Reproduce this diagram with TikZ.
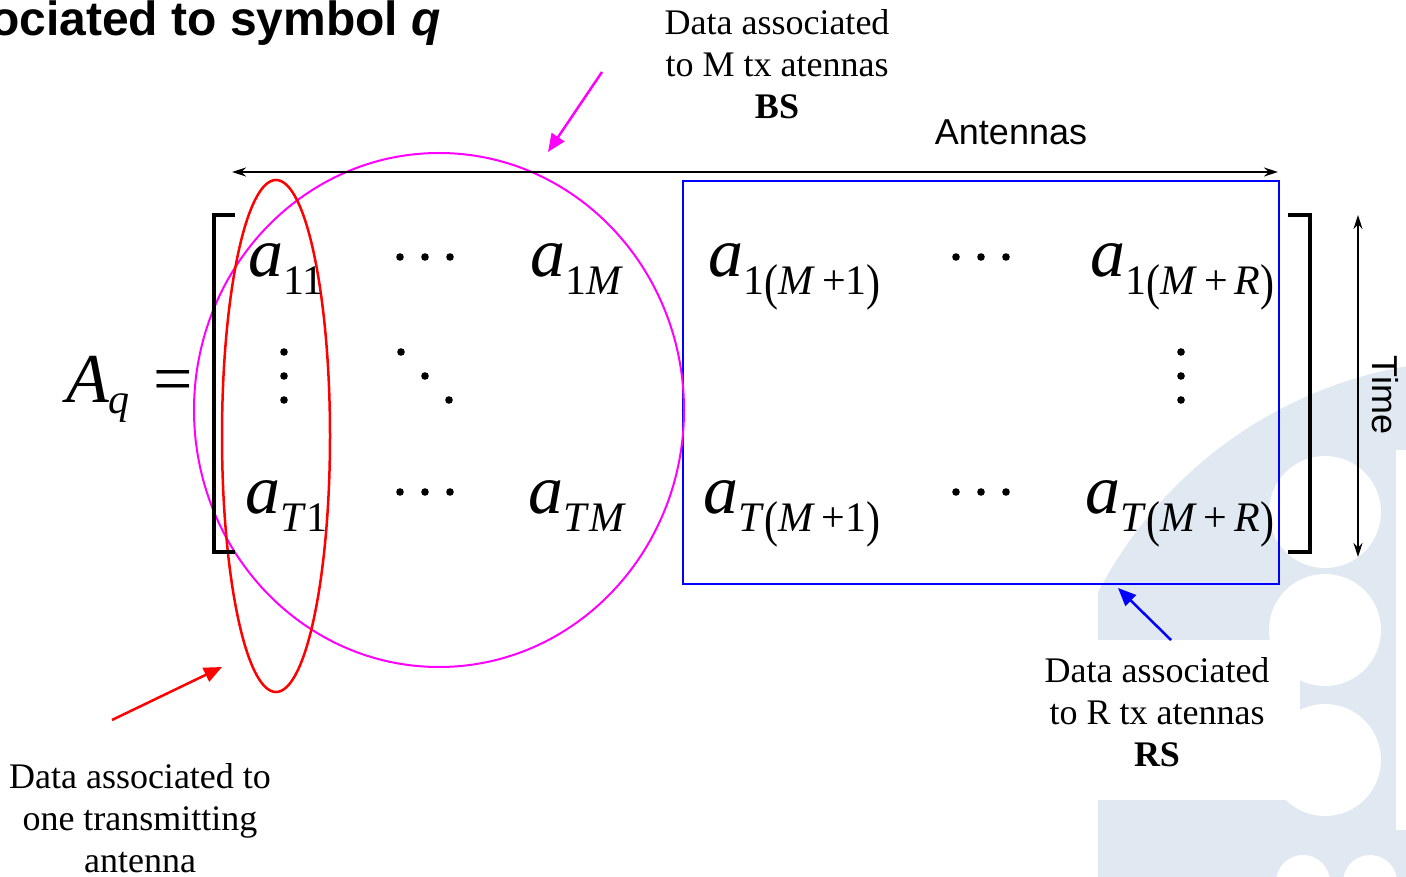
\documentclass[tikz,border=0pt]{standalone}
\usepackage{fontspec}
\setmainfont{Liberation Serif}
\newfontfamily\arialfont{Liberation Sans}
\usetikzlibrary{arrows.meta, positioning, calc}
\definecolor{matmagenta}{HTML}{FF00FF}
\definecolor{matred}{HTML}{FF0000}
\definecolor{matblue}{HTML}{0000FF}
\definecolor{markblue}{HTML}{E0E9F2}

\newcommand{\elA}{{\fontsize{70}{70}\selectfont\itshape a}}
\newcommand{\elsub}[1]{\raisebox{-18pt}{\fontsize{42}{42}\selectfont #1}}
\newcommand{\vM}{\textit{M}}
\newcommand{\vR}{\textit{R}}
\newcommand{\vT}{\textit{T}}
\newcommand{\lpar}{\raisebox{-5pt}{\scalebox{1}[1.2]{(}}}
\newcommand{\rpar}{\raisebox{-5pt}{\scalebox{1}[1.2]{)}}}

\tikzset{
  entry/.style={anchor=base west, inner sep=0pt},
  note/.style={align=center, anchor=north, inner sep=0pt,
    font=\fontsize{36}{42}\selectfont},
  tip/.style={-{Triangle[length=18pt,width=15pt]}, line width=2.5pt},
  axis/.style={{Stealth[length=14pt,width=9pt]}-{Stealth[length=14pt,width=9pt]},
    line width=1.5pt}
}

\begin{document}
\begin{tikzpicture}[x=1pt,y=-1pt]
  \useasboundingbox (0,0) rectangle (1406,877);

  % Watermark
  \begin{scope}
    \clip (1098,300) rectangle (1406,877);
    \fill[markblue] (1480,790) circle (430pt);
    \fill[white] (1098,640) rectangle (1300,800);
    \fill[white] (1325,512) circle (56pt);
    \fill[white] (1325,630) circle (56pt);
    \fill[white] (1325,760) circle (56pt);
    \fill[markblue] (1307,687) rectangle (1406,702);
    \fill[white] (1396,450) rectangle (1406,830);
    \fill[white] (1303,882) circle (27pt);
    \fill[white] (1370,882) circle (27pt);
  \end{scope}

  % Title
  \node[anchor=base east, inner sep=0pt, font=\arialfont\bfseries\fontsize{48}{48}\selectfont]
    (title) at (441,36) {ociated to symbol \textit{q}};

  % Groupings
  \draw[matblue, line width=2.5pt] (683,181) rectangle (1279,584);
  \draw[matmagenta, line width=2pt] (439,410) ellipse [x radius=245pt, y radius=257pt];
  \draw[matred, line width=2.5pt] (276,436) ellipse [x radius=54pt, y radius=256pt];

  % Brackets
  \draw[line width=4pt] (235,215) -- (214,215) -- (214,552) -- (235,552);
  \draw[line width=4pt] (1288,215) -- (1310,215) -- (1310,552) -- (1288,552);

  % Left-hand side
  \node[entry] (lhs) at (66,402)
    {{\fontsize{70}{70}\selectfont\itshape A}\raisebox{-12pt}{\fontsize{42}{42}\selectfont\itshape q}%
     \hspace{24pt}{\fontsize{70}{70}\selectfont =}};

  % Entries
  \node[entry] (a11)  at (248,277) {\elA\elsub{11}};
  \node[entry] (a1M)  at (530,277) {\elA\elsub{1\vM}};
  \node[entry] (aT1)  at (245,513) {\elA\elsub{\vT1}};
  \node[entry] (aTM)  at (528,513) {\elA\elsub{\vT\vM}};
  \node[entry] (a1M1) at (708,277) {\elA\elsub{1\lpar\vM\,+1\rpar}};
  \node[entry] (a1MR) at (1090,277) {\elA\elsub{1\lpar\vM\,+\,\vR\rpar}};
  \node[entry] (aTM1) at (703,513) {\elA\elsub{\vT\lpar\vM\,+1\rpar}};
  \node[entry] (aTMR) at (1085,513) {\elA\elsub{\vT\lpar\vM\,+\,\vR\rpar}};

  % Dots
  \foreach \cx in {400,956}
    \foreach \cy in {257,492}
      \foreach \k in {0,1,2}
        \fill ({\cx+25*\k},\cy) circle (3.8pt);
  \foreach \cx in {284,1181}
    \foreach \k in {0,1,2}
      \fill (\cx,{352+24*\k}) circle (3.8pt);
  \foreach \k in {0,1,2}
    \fill ({401+24*\k},{352+24*\k}) circle (3.8pt);

  % Axes
  \coordinate (antL) at (232,172);
  \coordinate (antR) at (1278,172);
  \draw[axis] (antL) -- (antR);
  \node[anchor=base, inner sep=0pt, font=\arialfont\fontsize{36}{36}\selectfont]
    (antlabel) at (1011,145) {Antennas};
  \coordinate (timeT) at (1358,215);
  \coordinate (timeB) at (1358,557);
  \draw[axis] (timeT) -- (timeB);
  \node[rotate=-90, inner sep=0pt, font=\arialfont\fontsize{36}{36}\selectfont]
    (timelabel) at (1385,395) {Time};

  % Notes
  \node[note] (bsnote) at (777,9) {Data associated\\to M tx atennas\\\textbf{BS}};
  \node[note] (rsnote) at (1157,657) {Data associated\\to R tx atennas\\\textbf{RS}};
  \node[note] (onenote) at (140,763) {Data associated to\\one transmitting\\antenna};

  \coordinate (bstail) at (602,72);
  \coordinate (bshead) at (548,152);
  \draw[tip, matmagenta] (bstail) -- (bshead);
  \coordinate (rstail) at (1171,640);
  \coordinate (rshead) at (1118,588);
  \draw[tip, matblue] (rstail) -- (rshead);
  \coordinate (onetail) at (112,720);
  \coordinate (onehead) at (222,667);
  \draw[tip, matred] (onetail) -- (onehead);
\end{tikzpicture}
\end{document}
